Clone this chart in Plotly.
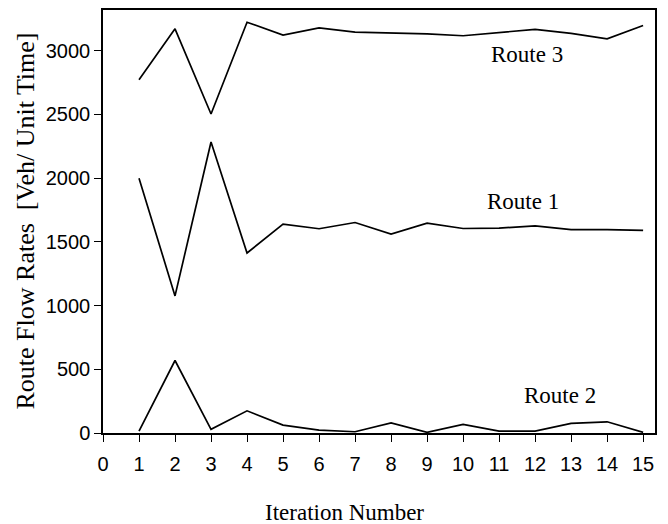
import plotly.graph_objects as go

iterations = list(range(1, 16))
route1 = [2000, 1076, 2284, 1413, 1639, 1603, 1652, 1561, 1647, 1605, 1608, 1625, 1596, 1596, 1590]
route2 = [15, 569, 29, 174, 62, 23, 10, 80, 5, 68, 15, 15, 75, 88, 5]
route3 = [2772, 3172, 2504, 3224, 3123, 3180, 3147, 3141, 3133, 3118, 3145, 3168, 3137, 3094, 3198]
series_names = ["Route 1", "Route 2", "Route 3"]
x_ticks = list(range(0, 16))
y_ticks = [0, 500, 1000, 1500, 2000, 2500, 3000]

label_pos = {"Route 3": (11.78, 2970), "Route 1": (11.67, 1816), "Route 2": (12.69, 296)}

fig = go.Figure()
for name, vals in zip(series_names, [route1, route2, route3]):
    fig.add_trace(go.Scatter(x=iterations, y=vals, mode="lines", name=name,
                             line=dict(color="black", width=1.7), showlegend=False))

serif = "Liberation Serif, Times New Roman, serif"
sans = "Liberation Sans, Arial, sans-serif"

for name, (lx, ly) in label_pos.items():
    fig.add_annotation(x=lx, y=ly, text=name, showarrow=False, xref="x", yref="y",
                       xanchor="center", yanchor="middle",
                       font=dict(family=serif, size=23, color="black"))

fig.add_annotation(x=-0.1413, y=0.5, xref="paper", yref="paper", showarrow=False,
                   xanchor="center", yanchor="middle",
                   text="Route Flow Rates \u00a0[Veh/ Unit Time]", textangle=-90,
                   font=dict(family=serif, size=26, color="black"))
fig.add_annotation(x=0.438, y=-0.188, xref="paper", yref="paper", showarrow=False,
                   xanchor="center", yanchor="middle",
                   text="Iteration Number", font=dict(family=serif, size=23, color="black"))

fig.update_layout(
    width=660, height=516,
    margin=dict(l=95, r=13, t=0, b=91),
    paper_bgcolor="white", plot_bgcolor="white",
)
fig.update_xaxes(range=[0, 15.33], tickmode="array", tickvals=x_ticks, ticktext=[str(t) for t in x_ticks],
                 showgrid=False, zeroline=False, showline=True, linecolor="black", linewidth=1.5,
                 mirror=True, ticks="outside", ticklen=7, tickcolor="black", tickwidth=1.3,
                 ticklabelstandoff=5,
                 tickfont=dict(family=sans, size=20, color="black"))
fig.update_yaxes(range=[0, 3320], tickmode="array", tickvals=y_ticks, ticktext=[str(t) for t in y_ticks],
                 showgrid=False, zeroline=False, showline=True, linecolor="black", linewidth=1.5,
                 mirror=True, ticks="outside", ticklen=7, tickcolor="black", tickwidth=1.3,
                 tickfont=dict(family=sans, size=20, color="black"))

fig.write_html("out.html")
